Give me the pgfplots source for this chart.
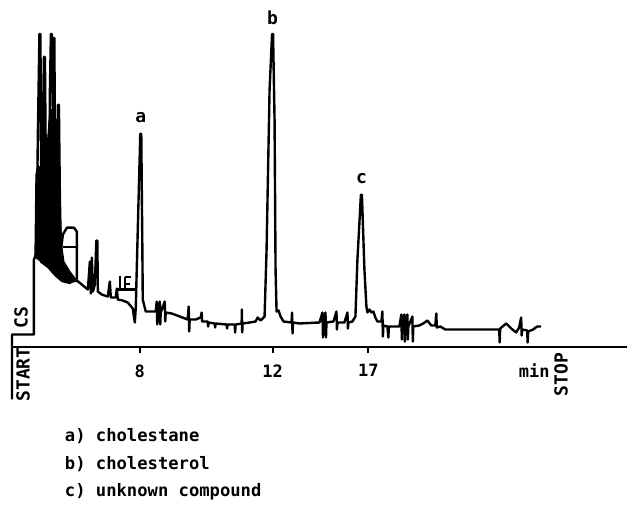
\documentclass[border=0pt]{standalone}
\usepackage{pgfplots}
\pgfplotsset{compat=1.18}
\usepackage{fontspec}
\setmainfont{DejaVu Sans Mono}
\newcommand{\lab}{\bfseries\fontsize{9}{10}\selectfont}
\newcommand{\leg}{\bfseries\fontsize{8.6}{10}\selectfont}
\begin{document}
\begin{tikzpicture}
\begin{axis}[
  scale only axis, width=308pt, height=174pt,
  xmin=12, xmax=628, ymin=0, ymax=348, y dir=reverse,
  clip=false,
  axis x line*=bottom, axis y line=none,
  axis line style={-, line width=1pt},
  xtick={140,273,369}, xticklabels={\textbf{8},\textbf{12},\textbf{17}},
  xtick align=outside, major tick length=3pt,
  xtick style={line width=1pt, black},
  xticklabel style={font=\bfseries\fontsize{8.5}{10}\selectfont, yshift=-2pt},
]
% black mass of the early solvent peaks
\addplot[draw=black, fill=black, line width=0.6pt] coordinates {
 (35,258) (36,175) (38,165) (41,170) (44,140) (47,150) (50,110) (54,110)
 (56,150) (58,185) (60,215) (62,248) (64,262) (70,272) (76,280) (70,284)
 (62,282) (55,276) (48,268) (40,262)};
% trace
\addplot[black, line width=1.2pt, line join=round] coordinates {
 (12,400) (12,335) (34,335) (34,260) (36,255) (37,210) (38,130) (39.5,34) (40.5,34)
 (41,140) (42,230) (43,130) (44,57) (45,57) (46,180) (47,240) (48,160) (49,230)
 (50,90) (51,34) (52,34) (53,110) (53.5,38) (54.5,38) (55,160) (56,120) (57,210)
 (58,105) (59,105) (60,200) (61,250) (62,275) (66,280) (72,282) (77,281) (82,285)
 (88,290) (90,262) (91,294) (92,258) (93,292) (95,285) (96.5,241) (97.5,241) (98,292)
 (102,295) (108,297) (110,282) (111,298) (116,298) (117,289) (118,300) (123,301)
 (128,303) (133,309) (135,323) (136,308) (138,230) (140.5,134) (141.5,134) (142.5,240)
 (143,300) (144,304) (146,312) (156,312) (157,302) (157.5,325) (158,312) (160,302)
 (160.5,325) (161,313) (165,302) (165.5,322) (166,313) (172,314) (180,317) (188,320)
 (189,307) (189.5,332) (190,320) (196,320) (201,318) (202,313) (202.5,322) (208,322)
 (208.5,327) (209,323) (215,324) (215.5,328) (216,324) (227,325) (227.5,329) (228,325)
 (235,325) (235.5,333) (236,325) (242,324) (242.3,310) (242.6,333) (243,324) (250,323)
 (256,322) (258,318) (261,321) (265,317) (267,250) (270,90) (272.5,34) (273.5,34)
 (275,120) (276,270) (277,312) (279,311) (281,317) (284,322) (292,323) (292.5,313)
 (293,334) (293.5,323) (300,324) (320,323) (323,313) (323.5,338) (324,323) (326,313)
 (326.5,338) (327,323) (334,322) (337,312) (337.5,330) (338,323) (345,323) (348,313)
 (348.5,329) (349,323) (353,322) (356,317) (358,260) (361.5,195) (362.5,195) (365,270)
 (367,307) (368,313) (370,310) (372,313) (374,312) (376,318) (378,322) (382,322)
 (383,312) (383.5,337) (384,326) (388,327) (389,338) (389.5,327) (395,327) (400,327)
 (402,315) (402.5,340) (403,327) (405,315) (405.5,342) (406,327) (408,315) (408.5,340)
 (409,327) (413,317) (413.5,342) (414,327) (420,326) (424,324) (428,321) (432,326)
 (436,326) (437,314) (437.5,328) (441,327) (446,330) (500,330) (500.5,343) (501,329)
 (507,324) (512,329) (517,333) (520,328) (522,318) (522.5,336) (523,330) (528,331)
 (528.5,343) (529,332) (534,330) (538,327) (542,327)};
% integrator loop and marks
\addplot[black, line width=1.2pt, line join=round] coordinates {
 (61,250) (63,235) (67,228) (74,228) (77,232) (77,280)};
\addplot[black, line width=1.1pt] coordinates {(63,247) (76,247)};
\addplot[black, line width=1pt] coordinates {(120,276) (120,290)};
\addplot[black, line width=1pt] coordinates {(125,277) (125,290)};
\addplot[black, line width=1pt] coordinates {(125,277) (131,277)};
\addplot[black, line width=1pt] coordinates {(125,284) (130,284)};
\addplot[black, line width=1.1pt] coordinates {(117,290) (135,290)};
% labels
\node[font=\lab] at (axis cs:141,118) {a};
\node[font=\lab] at (axis cs:273,18) {b};
\node[font=\lab] at (axis cs:362,179) {c};
\node[font=\lab, rotate=90] at (axis cs:21,318) {CS};
\node[font=\lab, rotate=90] at (axis cs:23,375) {START};
\node[font=\lab, rotate=90] at (axis cs:562,375) {STOP};
\node[font=\bfseries\fontsize{8.5}{10}\selectfont] at (axis cs:535,371) {min};
\node[font=\leg, anchor=west] at (axis cs:58,437) {a) cholestane};
\node[font=\leg, anchor=west] at (axis cs:58,465) {b) cholesterol};
\node[font=\leg, anchor=west] at (axis cs:58,493) {c) unknown compound};
\path (axis cs:0,0) (axis cs:628,506);
\end{axis}
\end{tikzpicture}
\end{document}
